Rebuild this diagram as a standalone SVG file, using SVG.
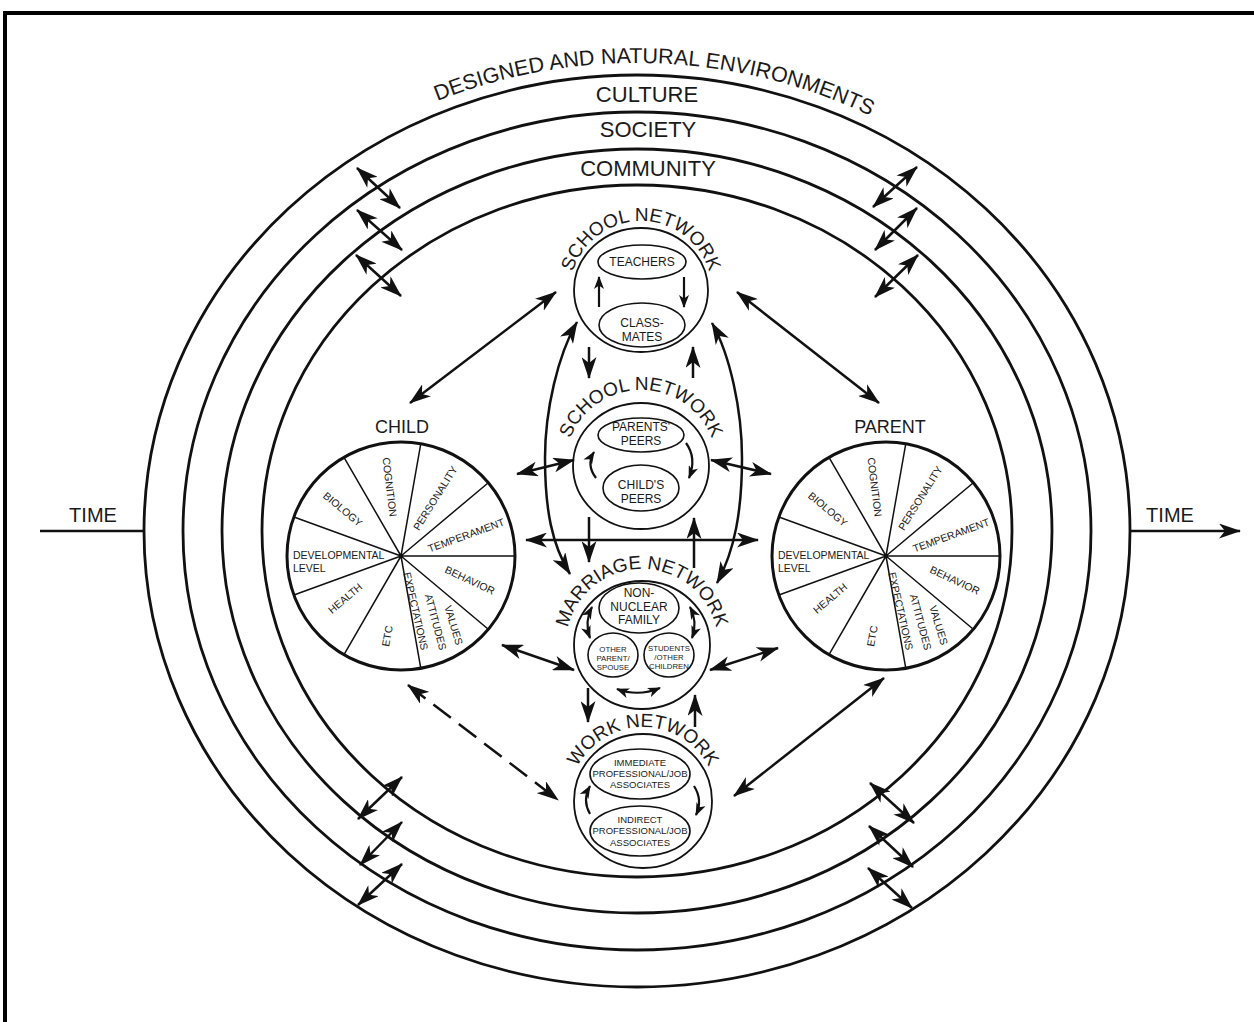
<svg xmlns="http://www.w3.org/2000/svg" width="1254" height="1022" viewBox="0 0 1254 1022">
<style>
text{font-family:"Liberation Sans",Arial,sans-serif;fill:#1a1a1a}
.ring{fill:none;stroke:#111;stroke-width:2.8}
.net{fill:#fff;stroke:#111;stroke-width:1.8}
.sub{fill:#fff;stroke:#111;stroke-width:1.6}
.pie{fill:#fff;stroke:#111;stroke-width:3}
.spoke{stroke:#111;stroke-width:1.5}
.con{fill:none;stroke:#111;stroke-width:2.5;marker-start:url(#ah);marker-end:url(#ah)}
.one{fill:none;stroke:#111;stroke-width:2.5;marker-end:url(#ah)}
.sm{fill:none;stroke:#111;stroke-width:2.2;marker-end:url(#sh)}
.smd{fill:none;stroke:#111;stroke-width:2.2;marker-start:url(#sh);marker-end:url(#sh)}
.big{font-size:22px}
.env{font-size:21.5px}
.nt{font-size:19px}
.pl{font-size:10.5px}
.lab{font-size:12px;text-anchor:middle}
.tiny{font-size:7.8px;text-anchor:middle}
.wk{font-size:9.5px;text-anchor:middle}
</style>
<defs>
<marker id="ah" viewBox="0 0 22 15" refX="21" refY="7.5" markerWidth="22" markerHeight="15" markerUnits="userSpaceOnUse" orient="auto-start-reverse"><path d="M0,0 L22,7.5 L0,15 L6,7.5 Z" fill="#111"/></marker>
<marker id="sh" viewBox="0 0 13 10" refX="12" refY="5" markerWidth="13" markerHeight="10" markerUnits="userSpaceOnUse" orient="auto-start-reverse"><path d="M0,0 L13,5 L0,10 L3.5,5 Z" fill="#111"/></marker>
<path id="arcEnv" d="M132,531 A505 468 0 0 1 1142,531"/>
<path id="arcS1" d="M570,292 A71 71 0 0 1 712,292"/>
<path id="arcS2" d="M565,466 A76 76 0 0 1 717,466"/>
<path id="arcM" d="M566,645 A76 76 0 0 1 718,645"/>
<path id="arcW" d="M569,801 A74 74 0 0 1 717,801"/>
</defs>
<rect x="5" y="13" width="1262" height="1024" fill="none" stroke="#000" stroke-width="4"/>

<g id="environment">
<ellipse class="ring" cx="637" cy="531" rx="493" ry="456"/>
<ellipse class="ring" cx="637" cy="531" rx="454" ry="419"/>
<ellipse class="ring" cx="637" cy="531" rx="415" ry="382"/>
<ellipse class="ring" cx="637" cy="531" rx="375" ry="346"/>
<text class="env"><textPath href="#arcEnv" startOffset="51.2%" text-anchor="middle">DESIGNED AND NATURAL ENVIRONMENTS</textPath></text>
<text class="big" x="647" y="102" text-anchor="middle">CULTURE</text>
<text class="big" x="648" y="137" text-anchor="middle">SOCIETY</text>
<text class="big" x="648" y="176" text-anchor="middle">COMMUNITY</text>
</g>

<g id="time">
<text x="93" y="522" font-size="20" text-anchor="middle">TIME</text>
<text x="1170" y="522" font-size="20" text-anchor="middle">TIME</text>
</g>

<g id="child">
<text x="402" y="433" font-size="18" text-anchor="middle">CHILD</text>
<g transform="translate(401,556)">
<circle class="pie" r="114"/>
<path class="spoke" d="M0,0L-107.1,-39M0,0L-57,-98.7M0,0L19.8,-112.3M0,0L87.3,-73.3M0,0L114,0M0,0L87.3,73.3M0,0L19.8,112.3M0,0L-57,98.7M0,0L-107.1,39"/>
<circle r="2" fill="#111"/>
<g class="pl" text-anchor="middle">
<text transform="translate(-58,-47) rotate(40)" dy="4">BIOLOGY</text>
<text transform="translate(-11,-69) rotate(83)" dy="4">COGNITION</text>
<text transform="translate(34,-58) rotate(-58)" dy="4">PERSONALITY</text>
<text transform="translate(65,-21) rotate(-20)" dy="4">TEMPERAMENT</text>
<text transform="translate(69,24) rotate(25)" dy="4">BEHAVIOR</text>
<text transform="translate(15,55) rotate(77)" dy="4">EXPECTATIONS</text>
<text transform="translate(35,66) rotate(75)" dy="4">ATTITUDES</text>
<text transform="translate(53,69) rotate(73)" dy="4">VALUES</text>
<text transform="translate(-14,80) rotate(-80)" dy="4">ETC</text>
<text transform="translate(-56,42) rotate(-40)" dy="4">HEALTH</text>
</g>
<text class="pl" x="-108" y="3">DEVELOPMENTAL</text>
<text class="pl" x="-108" y="16">LEVEL</text>
</g>
</g>

<g id="parent">
<text x="890" y="433" font-size="18" text-anchor="middle">PARENT</text>
<g transform="translate(886,556)">
<circle class="pie" r="114"/>
<path class="spoke" d="M0,0L-107.1,-39M0,0L-57,-98.7M0,0L19.8,-112.3M0,0L87.3,-73.3M0,0L114,0M0,0L87.3,73.3M0,0L19.8,112.3M0,0L-57,98.7M0,0L-107.1,39"/>
<circle r="2" fill="#111"/>
<g class="pl" text-anchor="middle">
<text transform="translate(-58,-47) rotate(40)" dy="4">BIOLOGY</text>
<text transform="translate(-11,-69) rotate(83)" dy="4">COGNITION</text>
<text transform="translate(34,-58) rotate(-58)" dy="4">PERSONALITY</text>
<text transform="translate(65,-21) rotate(-20)" dy="4">TEMPERAMENT</text>
<text transform="translate(69,24) rotate(25)" dy="4">BEHAVIOR</text>
<text transform="translate(15,55) rotate(77)" dy="4">EXPECTATIONS</text>
<text transform="translate(35,66) rotate(75)" dy="4">ATTITUDES</text>
<text transform="translate(53,69) rotate(73)" dy="4">VALUES</text>
<text transform="translate(-14,80) rotate(-80)" dy="4">ETC</text>
<text transform="translate(-56,42) rotate(-40)" dy="4">HEALTH</text>
</g>
<text class="pl" x="-108" y="3">DEVELOPMENTAL</text>
<text class="pl" x="-108" y="16">LEVEL</text>
</g>
</g>

<g id="school-network-1">
<ellipse class="net" cx="641" cy="290" rx="67" ry="62"/>
<text class="nt"><textPath href="#arcS1" startOffset="50%" text-anchor="middle">SCHOOL NETWORK</textPath></text>
<ellipse class="sub" cx="642" cy="262" rx="44" ry="17"/>
<text class="lab" x="642" y="266">TEACHERS</text>
<ellipse class="sub" cx="642" cy="325" rx="43" ry="22"/>
<text class="lab" x="642" y="327">CLASS-</text>
<text class="lab" x="642" y="341">MATES</text>
<path class="sm" d="M599,307 L599,277"/>
<path class="sm" d="M684,277 L684,307"/>
</g>

<g id="school-network-2">
<ellipse class="net" cx="641" cy="466" rx="68" ry="63"/>
<text class="nt"><textPath href="#arcS2" startOffset="50%" text-anchor="middle">SCHOOL NETWORK</textPath></text>
<ellipse class="sub" cx="641" cy="435" rx="43" ry="17"/>
<text class="lab" x="641" y="431">PARENTS'</text>
<text class="lab" x="641" y="445">PEERS</text>
<ellipse class="sub" cx="641" cy="488" rx="38" ry="23"/>
<text class="lab" x="641" y="489">CHILD'S</text>
<text class="lab" x="641" y="503">PEERS</text>
<path class="sm" d="M596,478 Q586,465 594,452"/>
<path class="sm" d="M686,443 Q697,458 689,478"/>
</g>

<g id="marriage-network">
<ellipse class="net" cx="642" cy="645" rx="68" ry="64"/>
<text class="nt"><textPath href="#arcM" startOffset="50%" text-anchor="middle">MARRIAGE NETWORK</textPath></text>
<ellipse class="sub" cx="639" cy="608" rx="40" ry="25"/>
<text class="lab" x="639" y="597" font-size="11.5">NON-</text>
<text class="lab" x="639" y="610.5" font-size="11.5">NUCLEAR</text>
<text class="lab" x="639" y="624" font-size="11.5">FAMILY</text>
<ellipse class="sub" cx="613" cy="655" rx="25" ry="22"/>
<text class="tiny" x="613" y="652">OTHER</text>
<text class="tiny" x="613" y="661">PARENT/</text>
<text class="tiny" x="613" y="670">SPOUSE</text>
<ellipse class="sub" cx="669" cy="655" rx="25" ry="22"/>
<text class="tiny" x="669" y="651">STUDENTS</text>
<text class="tiny" x="669" y="660">/OTHER</text>
<text class="tiny" x="669" y="669">CHILDREN</text>
<path class="smd" d="M592,607 Q584,622 590,638"/>
<path class="smd" d="M690,607 Q698,622 692,638"/>
<path class="smd" d="M617,689 Q638,697 660,688"/>
</g>

<g id="work-network">
<ellipse class="net" cx="643" cy="801" rx="69" ry="67"/>
<text class="nt"><textPath href="#arcW" startOffset="50%" text-anchor="middle">WORK NETWORK</textPath></text>
<ellipse class="sub" cx="640" cy="774" rx="50" ry="25"/>
<text class="wk" x="640" y="766">IMMEDIATE</text>
<text class="wk" x="640" y="777">PROFESSIONAL/JOB</text>
<text class="wk" x="640" y="788">ASSOCIATES</text>
<ellipse class="sub" cx="640" cy="831" rx="50" ry="25"/>
<text class="wk" x="640" y="823">INDIRECT</text>
<text class="wk" x="640" y="834">PROFESSIONAL/JOB</text>
<text class="wk" x="640" y="846">ASSOCIATES</text>
<path class="sm" d="M590,814 Q582,800 590,786"/>
<path class="sm" d="M694,786 Q703,800 696,815"/>
</g>

<g id="connectors">
<path d="M40,531 L145,531" fill="none" stroke="#111" stroke-width="2.5"/>
<path class="one" d="M1130,531 L1240,531"/>
<path class="con" d="M357,168 L400,208"/>
<path class="con" d="M357,210 L402,250"/>
<path class="con" d="M356,255 L401,296"/>
<path class="con" d="M873,207 L917,167"/>
<path class="con" d="M875,250 L917,208"/>
<path class="con" d="M875,297 L918,255"/>
<path class="con" d="M358,819 L402,777"/>
<path class="con" d="M360,865 L402,822"/>
<path class="con" d="M358,905 L402,864"/>
<path class="con" d="M870,783 L914,823"/>
<path class="con" d="M869,826 L913,867"/>
<path class="con" d="M868,868 L912,908"/>
<path class="con" d="M410,403 L556,292"/>
<path class="con" d="M737,292 L879,403"/>
<path class="con" d="M577,322 C558,355 545,410 545,458 C545,510 552,545 570,574"/>
<path class="con" d="M712,323 C730,355 742,410 742,458 C742,510 735,550 717,583"/>
<path class="one" d="M589,347 L589,378"/>
<path class="one" d="M693,378 L693,347"/>
<path class="con" d="M517,474 L574,460"/>
<path class="con" d="M711,460 L771,474"/>
<path class="con" d="M526,540 L758,540"/>
<path class="one" d="M589,517 L589,562"/>
<path class="one" d="M694,568 L694,518"/>
<path class="con" d="M502,645 L574,670"/>
<path class="con" d="M710,670 L778,648"/>
<path class="one" d="M588,688 L588,722"/>
<path class="one" d="M695,727 L695,695"/>
<path class="con" d="M408,685 L558,800" stroke-dasharray="22 10"/>
<path class="con" d="M734,796 L884,678"/>
</g>
</svg>
